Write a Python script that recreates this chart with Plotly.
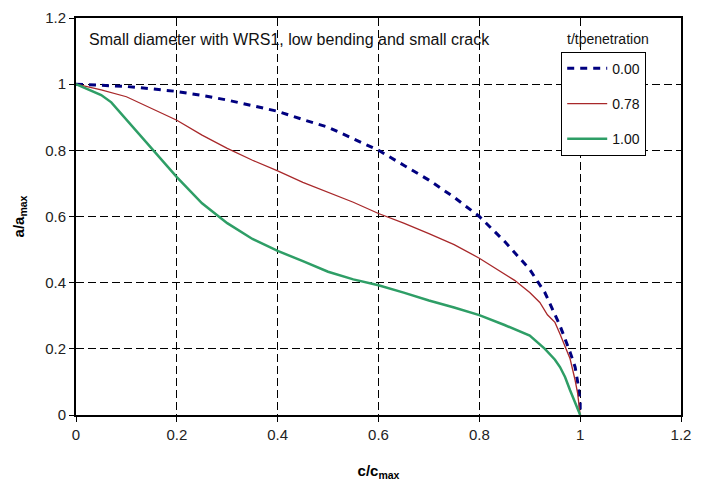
import plotly.graph_objects as go

series_names = ["0.00", "0.78", "1.00"]

x_000 = [0, 0.05, 0.1, 0.15, 0.2, 0.25, 0.3, 0.35, 0.4, 0.45, 0.5, 0.55, 0.6, 0.65, 0.7, 0.75,
         0.8, 0.85, 0.9, 0.93, 0.96, 0.98, 0.99, 0.995, 1.0, 1.0]
y_000 = [1, 0.997, 0.993, 0.986, 0.978, 0.966, 0.952, 0.935, 0.918, 0.893, 0.87, 0.835, 0.80,
         0.755, 0.71, 0.658, 0.60, 0.525, 0.44, 0.37, 0.27, 0.19, 0.145, 0.1, 0.04, 0]

x_078 = [0, 0.05, 0.1, 0.15, 0.2, 0.25, 0.3, 0.35, 0.4, 0.45, 0.5, 0.55, 0.6, 0.65, 0.7, 0.75,
         0.8, 0.85, 0.87, 0.9, 0.92, 0.935, 0.95, 0.96, 0.97, 0.98, 0.99, 0.995, 1.0]
y_078 = [1, 0.983, 0.962, 0.927, 0.891, 0.846, 0.806, 0.77, 0.738, 0.703, 0.672, 0.643, 0.609,
         0.58, 0.548, 0.515, 0.474, 0.427, 0.407, 0.37, 0.34, 0.303, 0.28, 0.245, 0.205, 0.17,
         0.105, 0.065, 0]

x_100 = [0, 0.03, 0.05, 0.07, 0.1, 0.15, 0.2, 0.25, 0.3, 0.35, 0.4, 0.45, 0.5, 0.55, 0.6, 0.65,
         0.7, 0.75, 0.8, 0.85, 0.9, 0.93, 0.95, 0.96, 0.97, 0.98, 0.99, 1.0]
y_100 = [1, 0.98, 0.967, 0.945, 0.893, 0.803, 0.719, 0.64, 0.58, 0.532, 0.496, 0.465, 0.433,
         0.41, 0.392, 0.37, 0.346, 0.325, 0.302, 0.272, 0.24, 0.2, 0.167, 0.145, 0.115, 0.075,
         0.035, 0]

FONT = "Liberation Sans, Arial, sans-serif"

fig = go.Figure()
fig.add_trace(go.Scatter(x=x_000, y=y_000, mode="lines", name=series_names[0], legendgroup="a",
                         line=dict(color="#000080", width=3, dash="7px,6px")))
fig.add_trace(go.Scatter(x=x_078, y=y_078, mode="lines", name=series_names[1], legendgroup="b",
                         line=dict(color="#a8282a", width=1.3)))
fig.add_trace(go.Scatter(x=x_100, y=y_100, mode="lines", name=series_names[2], legendgroup="c",
                         line=dict(color="#2e9e66", width=2.5)))

axis_common = dict(
    showline=True, linecolor="black", linewidth=2, mirror=True,
    ticks="outside", ticklen=5, tickcolor="black", tickwidth=1,
    showgrid=True, gridcolor="black", gridwidth=1, griddash="8px,4px",
    zeroline=False, automargin=False, ticklabeloverflow="allow",
    tickfont=dict(family=FONT, size=15, color="#222"),
)

fig.update_xaxes(range=[0, 1.2], dtick=0.2, tick0=0,
                 title=dict(text="<b>c/c<sub>max</sub></b>", font=dict(family=FONT, size=15, color="black"), standoff=23),
                 **axis_common)
fig.update_yaxes(range=[0, 1.2], dtick=0.2, tick0=0,
                 title=dict(text="<b>a/a<sub>max</sub></b>", font=dict(family=FONT, size=15, color="black"), standoff=17),
                 **axis_common)

fig.add_annotation(text="Small diameter with WRS1, low bending and small crack",
                   xref="paper", yref="paper", x=0.018, y=0.945, xanchor="left", yanchor="middle",
                   showarrow=False, font=dict(family=FONT, size=16, color="#111"))
fig.add_annotation(text="t/tpenetration",
                   xref="paper", yref="paper", x=0.879, y=0.947, xanchor="center", yanchor="middle",
                   showarrow=False, font=dict(family=FONT, size=14, color="#111"))

fig.update_layout(
    width=706, height=485,
    margin=dict(l=68, r=33, t=10, b=78),
    plot_bgcolor="white", paper_bgcolor="white",
    legend=dict(x=0.802, y=0.915, xanchor="left", yanchor="top",
                bordercolor="black", borderwidth=1, bgcolor="white",
                font=dict(family=FONT, size=14, color="#111"),
                itemwidth=40,
                tracegroupgap=14, traceorder="grouped"),
)

fig.write_html("out.html")
